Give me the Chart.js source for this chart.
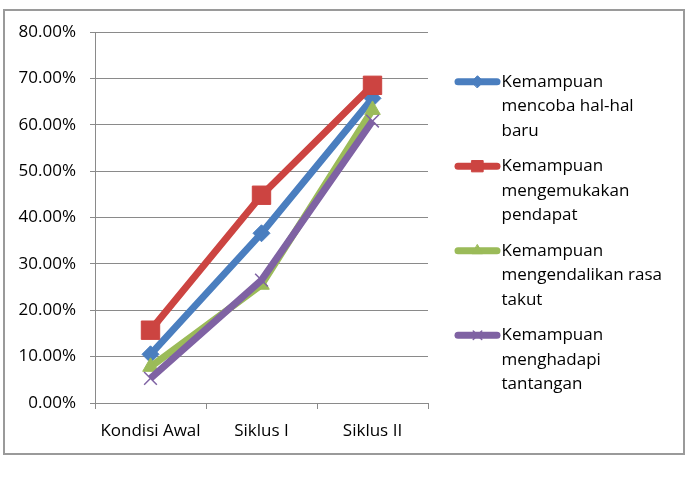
<!DOCTYPE html>
<html lang="id">
<head>
  <meta charset="UTF-8" />
  <title>Kemampuan Siswa</title>
  <script src="https://cdn.jsdelivr.net/npm/chart.js"></script>
  <style>
    body {
      margin: 0;
      background: #ffffff;
      font-family: "Open Sans", sans-serif;
    }
    .frame {
      position: absolute;
      left: 3px;
      top: 9px;
      width: 678px;
      height: 442px;
      border: 2px solid #9a9a9a;
      background: #ffffff;
    }
    canvas {
      display: block;
    }
  </style>
</head>
<body>
  <div class="frame">
    <canvas id="chart" width="678" height="442"></canvas>
  </div>

  <script>
    const categories = ['Kondisi Awal', 'Siklus I', 'Siklus II'];

    const mencobaHal = [0.105, 0.366, 0.657];
    const mengemukakan = [0.157, 0.448, 0.685];
    const mengendalikan = [0.078, 0.255, 0.632];
    const menghadapi = [0.053, 0.265, 0.608];

    const yTicks = [0, 0.1, 0.2, 0.3, 0.4, 0.5, 0.6, 0.7, 0.8];

    // legend text, already broken into lines like the original
    const legendLines = [
      ['Kemampuan', 'mencoba hal-hal', 'baru'],
      ['Kemampuan', 'mengemukakan', 'pendapat'],
      ['Kemampuan', 'mengendalikan rasa', 'takut'],
      ['Kemampuan', 'menghadapi', 'tantangan']
    ];

    const fontFamily = '"Open Sans", sans-serif';
    const fontSize = 17;

    function series(i, data, color, style, radius, bw, order) {
      return {
        label: legendLines[i].join(' '),
        data: data,
        borderColor: color,
        backgroundColor: color,
        borderWidth: 7,
        pointStyle: style,
        pointRadius: radius,
        pointBorderWidth: bw,
        pointBackgroundColor: color,
        pointBorderColor: color,
        tension: 0,
        fill: false,
        order: order
      };
    }

    const datasets = [
      series(0, mencobaHal, '#4a7ebf', 'rectRot', 8.5, 1, 4),
      series(1, mengemukakan, '#cc4441', 'rect', 13, 1, 3),
      series(2, mengendalikan, '#9bbb59', 'triangle', 9, 1, 2),
      series(3, menghadapi, '#7f62a3', 'crossRot', 9, 1.5, 1)
    ];

    // custom legend drawn on the canvas, with wrapped lines
    const sideLegend = {
      id: 'sideLegend',
      afterDraw(chart) {
        const ctx = chart.ctx;
        const x0 = 450, x1 = 495, tx = 496.5;
        const lineH = 24.5, gap = 11;
        let y = 70.7;
        ctx.save();
        ctx.font = fontSize + 'px ' + fontFamily;
        ctx.textBaseline = 'middle';
        ctx.textAlign = 'left';
        chart.data.datasets.forEach((ds, i) => {
          ctx.strokeStyle = ds.borderColor;
          ctx.lineWidth = 7;
          ctx.lineCap = 'round';
          ctx.beginPath();
          ctx.moveTo(x0 + 3, y);
          ctx.lineTo(x1 - 3, y);
          ctx.stroke();
          ctx.fillStyle = ds.borderColor;
          ctx.lineWidth = ds.pointBorderWidth;
          Chart.helpers.drawPoint(ctx, {
            pointStyle: ds.pointStyle,
            radius: ds.pointStyle === 'rect' ? 8 : 6,
            rotation: 0,
            borderWidth: ds.pointBorderWidth
          }, (x0 + x1) / 2, y);
          ctx.fillStyle = '#000000';
          legendLines[i].forEach((t, k) => {
            ctx.fillText(t, tx, y + k * lineH);
          });
          y += legendLines[i].length * lineH + gap;
        });
        ctx.restore();
      }
    };

    new Chart(document.getElementById('chart'), {
      type: 'line',
      data: {
        labels: categories,
        datasets: datasets
      },
      options: {
        responsive: false,
        animation: false,
        layout: {
          padding: { left: 0, top: 21, right: 255, bottom: 10 }
        },
        plugins: {
          legend: { display: false },
          tooltip: { enabled: false }
        },
        scales: {
          x: {
            offset: true,
            grid: {
              offset: true,
              drawOnChartArea: false,
              drawTicks: true,
              tickLength: 6,
              color: '#8a8a8a',
              lineWidth: 1
            },
            border: { display: true, color: '#8a8a8a', width: 1 },
            ticks: {
              color: '#000000',
              padding: 12,
              font: { family: fontFamily, size: fontSize }
            },
            afterFit(scale) {
              scale.height = 40;
              scale.paddingLeft = 0;
              scale.paddingRight = 0;
            }
          },
          y: {
            min: 0,
            max: 0.8,
            afterBuildTicks(scale) {
              scale.ticks = yTicks.map(v => ({ value: v }));
            },
            grid: {
              color: '#8a8a8a',
              lineWidth: 1,
              tickLength: 5
            },
            border: { display: true, color: '#8a8a8a', width: 1 },
            ticks: {
              color: '#000000',
              padding: 14,
              font: { family: fontFamily, size: fontSize },
              callback: v => (v * 100).toFixed(2) + '%'
            },
            afterFit(scale) {
              scale.width = 90;
              scale.paddingTop = 0;
              scale.paddingBottom = 0;
            }
          }
        }
      },
      plugins: [sideLegend]
    });
  </script>
</body>
</html>
